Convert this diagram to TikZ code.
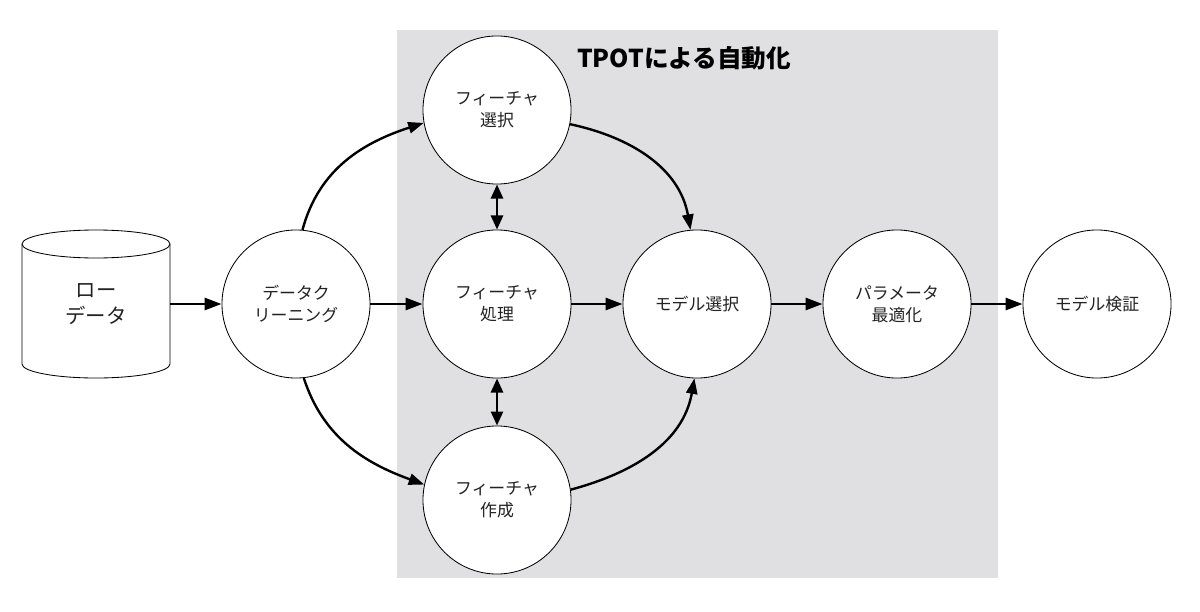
\documentclass[tikz,border=0pt]{standalone}
\usepackage{fontspec}
\setmainfont{Noto Sans CJK JP}
\usetikzlibrary{arrows.meta}
\definecolor{panel}{HTML}{E0E0E2}
\definecolor{txt}{HTML}{222222}
\tikzset{
  proc/.style={circle, draw=black, line width=0.6pt, fill=white, minimum size=3.7cm, inner sep=0pt, align=center, font=\fontsize{12pt}{15.5pt}\selectfont, text=txt},
  flow/.style={line width=1.9pt, -{Triangle[length=12pt,width=8.5pt]}},
  curveflow/.style={line width=1.7pt, -{Triangle[length=11pt,width=8pt]}},
  both/.style={line width=1.9pt, {Triangle[length=10pt,width=8.5pt]}-{Triangle[length=10pt,width=8.5pt]}}
}
\begin{document}
\begin{tikzpicture}[x=0.025cm,y=-0.025cm]
\useasboundingbox (0,0) rectangle (1200,611);
\fill[panel] (397,30) rectangle (998,578);
\node[font=\bfseries\fontsize{17.5pt}{21pt}\selectfont, text=black] (title) at (684,58) {TPOTによる自動化};
% cylinder
\draw[line width=0.6pt, fill=white] (22,244) -- (22,364) arc[start angle=180,end angle=0,x radius=74,y radius=14] -- (170,244) arc[start angle=0,end angle=-180,x radius=74,y radius=14] -- cycle;
\draw[line width=0.6pt] (22,244) arc[start angle=180,end angle=0,x radius=74,y radius=14];
\node[minimum width=3.7cm, minimum height=3.0cm, inner sep=0pt, align=center, font=\fontsize{14.5pt}{18pt}\selectfont, text=txt] (raw) at (96,304) {\raisebox{-16pt}{\parbox{3cm}{\centering ロー\\データ}}};
\node[proc] (clean) at (296,304) {データク\\リーニング};
\node[proc] (sel) at (497,110) {フィーチャ\\選択};
\node[proc] (proc) at (497,304) {フィーチャ\\処理};
\node[proc] (make) at (497,500) {フィーチャ\\作成};
\node[proc] (model) at (697,304) {モデル選択};
\node[proc] (param) at (897,304) {パラメータ\\最適化};
\node[proc] (valid) at (1097,304) {モデル検証};
\draw[flow] (raw.east) -- (clean.west);
\draw[flow] (clean.east) -- (proc.west);
\draw[flow] (proc.east) -- (model.west);
\draw[flow] (model.east) -- (param.west);
\draw[flow] (param.east) -- (valid.west);
\draw[curveflow] (clean.85) to[out=75,in=198] (sel.190);
\draw[curveflow] (clean.-84) to[out=-72,in=160] (make.168);
\draw[curveflow] (sel.-11) to[out=-12,in=100] (model.95);
\draw[curveflow] (make.8) to[out=15,in=-100] (model.-92);
\draw[both] (sel.south) -- (proc.north);
\draw[both] (proc.south) -- (make.north);
\end{tikzpicture}
\end{document}
